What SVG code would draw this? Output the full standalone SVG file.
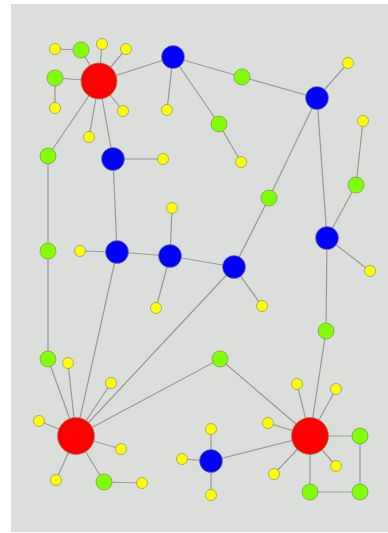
<svg xmlns="http://www.w3.org/2000/svg" width="388" height="533" viewBox="0 0 388 533">
<style>
.bg{fill:#dcdedc}
.e line{stroke:#999;stroke-width:1.2}
circle{stroke:#8a8a6a;stroke-opacity:.7;stroke-width:1}
.r{fill:#ff0000}
.b{fill:#0000ff}
.g{fill:#7fff00}
.y{fill:#ffff00}
</style>
<rect class="bg" x="11" y="4" width="377" height="528"/>
<g id="edges" class="e">
<line x1="55" y1="49" x2="81" y2="50"/>
<line x1="81" y1="50" x2="99" y2="81"/>
<line x1="102" y1="44" x2="99" y2="81"/>
<line x1="126" y1="49" x2="99" y2="81"/>
<line x1="55" y1="78" x2="99" y2="81"/>
<line x1="55" y1="78" x2="55" y2="108"/>
<line x1="123" y1="111" x2="99" y2="81"/>
<line x1="89" y1="137" x2="99" y2="81"/>
<line x1="48" y1="156" x2="99" y2="81"/>
<line x1="113" y1="159" x2="99" y2="81"/>
<line x1="173" y1="57" x2="99" y2="81"/>
<line x1="173" y1="57" x2="167" y2="110"/>
<line x1="173" y1="57" x2="242" y2="77"/>
<line x1="242" y1="77" x2="317" y2="98"/>
<line x1="173" y1="57" x2="219" y2="124"/>
<line x1="219" y1="124" x2="241" y2="162"/>
<line x1="317" y1="98" x2="348" y2="63"/>
<line x1="317" y1="98" x2="269" y2="198"/>
<line x1="317" y1="98" x2="327" y2="238"/>
<line x1="363" y1="121" x2="356" y2="185"/>
<line x1="356" y1="185" x2="327" y2="238"/>
<line x1="327" y1="238" x2="370" y2="271"/>
<line x1="327" y1="238" x2="326" y2="331"/>
<line x1="326" y1="331" x2="310" y2="436"/>
<line x1="269" y1="198" x2="234" y2="267"/>
<line x1="234" y1="267" x2="170" y2="256"/>
<line x1="234" y1="267" x2="262" y2="306"/>
<line x1="234" y1="267" x2="76" y2="436"/>
<line x1="113" y1="159" x2="163" y2="159"/>
<line x1="113" y1="159" x2="117" y2="252"/>
<line x1="80" y1="251" x2="117" y2="252"/>
<line x1="117" y1="252" x2="170" y2="256"/>
<line x1="170" y1="256" x2="172" y2="208"/>
<line x1="170" y1="256" x2="156" y2="308"/>
<line x1="117" y1="252" x2="76" y2="436"/>
<line x1="48" y1="156" x2="48" y2="251"/>
<line x1="48" y1="251" x2="48" y2="359"/>
<line x1="48" y1="359" x2="76" y2="436"/>
<line x1="68" y1="363" x2="76" y2="436"/>
<line x1="111" y1="383" x2="76" y2="436"/>
<line x1="220" y1="359" x2="76" y2="436"/>
<line x1="39" y1="421" x2="76" y2="436"/>
<line x1="121" y1="449" x2="76" y2="436"/>
<line x1="56" y1="480" x2="76" y2="436"/>
<line x1="104" y1="482" x2="76" y2="436"/>
<line x1="104" y1="482" x2="142" y2="483"/>
<line x1="220" y1="359" x2="310" y2="436"/>
<line x1="297" y1="384" x2="310" y2="436"/>
<line x1="336" y1="389" x2="310" y2="436"/>
<line x1="268" y1="423" x2="310" y2="436"/>
<line x1="360" y1="436" x2="310" y2="436"/>
<line x1="211" y1="461" x2="310" y2="436"/>
<line x1="336" y1="466" x2="310" y2="436"/>
<line x1="274" y1="474" x2="310" y2="436"/>
<line x1="310" y1="492" x2="310" y2="436"/>
<line x1="360" y1="436" x2="360" y2="492"/>
<line x1="310" y1="492" x2="360" y2="492"/>
<line x1="211" y1="461" x2="211" y2="429"/>
<line x1="211" y1="461" x2="211" y2="495"/>
<line x1="211" y1="461" x2="182" y2="459"/>
</g>
<g id="n-red1"><circle class="r" cx="99" cy="81" r="18"/></g>
<g id="n-red2"><circle class="r" cx="76" cy="436" r="18.5"/></g>
<g id="n-red3"><circle class="r" cx="310" cy="436" r="18.5"/></g>
<g id="n-blue1"><circle class="b" cx="173" cy="57" r="11.5"/></g>
<g id="n-blue2"><circle class="b" cx="317" cy="98" r="11.5"/></g>
<g id="n-blue3"><circle class="b" cx="113" cy="159" r="11.5"/></g>
<g id="n-blue4"><circle class="b" cx="117" cy="252" r="11.5"/></g>
<g id="n-blue5"><circle class="b" cx="170" cy="256" r="11.5"/></g>
<g id="n-blue6"><circle class="b" cx="234" cy="267" r="11.5"/></g>
<g id="n-blue7"><circle class="b" cx="327" cy="238" r="11.5"/></g>
<g id="n-blue8"><circle class="b" cx="211" cy="461" r="11.5"/></g>
<g id="n-green1"><circle class="g" cx="81" cy="50" r="8"/></g>
<g id="n-green2"><circle class="g" cx="55" cy="78" r="8"/></g>
<g id="n-green3"><circle class="g" cx="48" cy="156" r="8"/></g>
<g id="n-green4"><circle class="g" cx="242" cy="77" r="8"/></g>
<g id="n-green5"><circle class="g" cx="219" cy="124" r="8"/></g>
<g id="n-green6"><circle class="g" cx="269" cy="198" r="8"/></g>
<g id="n-green7"><circle class="g" cx="356" cy="185" r="8"/></g>
<g id="n-green8"><circle class="g" cx="48" cy="251" r="8"/></g>
<g id="n-green9"><circle class="g" cx="326" cy="331" r="8"/></g>
<g id="n-green10"><circle class="g" cx="48" cy="359" r="8"/></g>
<g id="n-green11"><circle class="g" cx="220" cy="359" r="8"/></g>
<g id="n-green12"><circle class="g" cx="104" cy="482" r="8"/></g>
<g id="n-green13"><circle class="g" cx="360" cy="436" r="8"/></g>
<g id="n-green14"><circle class="g" cx="310" cy="492" r="8"/></g>
<g id="n-green15"><circle class="g" cx="360" cy="492" r="8"/></g>
<g id="n-y1"><circle class="y" cx="55" cy="49" r="5.5"/></g>
<g id="n-y2"><circle class="y" cx="102" cy="44" r="5.5"/></g>
<g id="n-y3"><circle class="y" cx="126" cy="49" r="5.5"/></g>
<g id="n-y4"><circle class="y" cx="55" cy="108" r="5.5"/></g>
<g id="n-y5"><circle class="y" cx="123" cy="111" r="5.5"/></g>
<g id="n-y6"><circle class="y" cx="89" cy="137" r="5.5"/></g>
<g id="n-y7"><circle class="y" cx="167" cy="110" r="5.5"/></g>
<g id="n-y8"><circle class="y" cx="163" cy="159" r="5.5"/></g>
<g id="n-y9"><circle class="y" cx="348" cy="63" r="5.5"/></g>
<g id="n-y10"><circle class="y" cx="241" cy="162" r="5.5"/></g>
<g id="n-y11"><circle class="y" cx="363" cy="121" r="5.5"/></g>
<g id="n-y12"><circle class="y" cx="172" cy="208" r="5.5"/></g>
<g id="n-y13"><circle class="y" cx="80" cy="251" r="5.5"/></g>
<g id="n-y14"><circle class="y" cx="156" cy="308" r="5.5"/></g>
<g id="n-y15"><circle class="y" cx="262" cy="306" r="5.5"/></g>
<g id="n-y16"><circle class="y" cx="370" cy="271" r="5.5"/></g>
<g id="n-y17"><circle class="y" cx="68" cy="363" r="5.5"/></g>
<g id="n-y18"><circle class="y" cx="111" cy="383" r="5.5"/></g>
<g id="n-y19"><circle class="y" cx="39" cy="421" r="5.5"/></g>
<g id="n-y20"><circle class="y" cx="121" cy="449" r="5.5"/></g>
<g id="n-y21"><circle class="y" cx="56" cy="480" r="5.5"/></g>
<g id="n-y22"><circle class="y" cx="142" cy="483" r="5.5"/></g>
<g id="n-y23"><circle class="y" cx="182" cy="459" r="5.5"/></g>
<g id="n-y24"><circle class="y" cx="211" cy="429" r="5.5"/></g>
<g id="n-y25"><circle class="y" cx="211" cy="495" r="5.5"/></g>
<g id="n-y26"><circle class="y" cx="297" cy="384" r="5.5"/></g>
<g id="n-y27"><circle class="y" cx="336" cy="389" r="5.5"/></g>
<g id="n-y28"><circle class="y" cx="268" cy="423" r="5.5"/></g>
<g id="n-y29"><circle class="y" cx="336" cy="466" r="5.5"/></g>
<g id="n-y30"><circle class="y" cx="274" cy="474" r="5.5"/></g>
</svg>
